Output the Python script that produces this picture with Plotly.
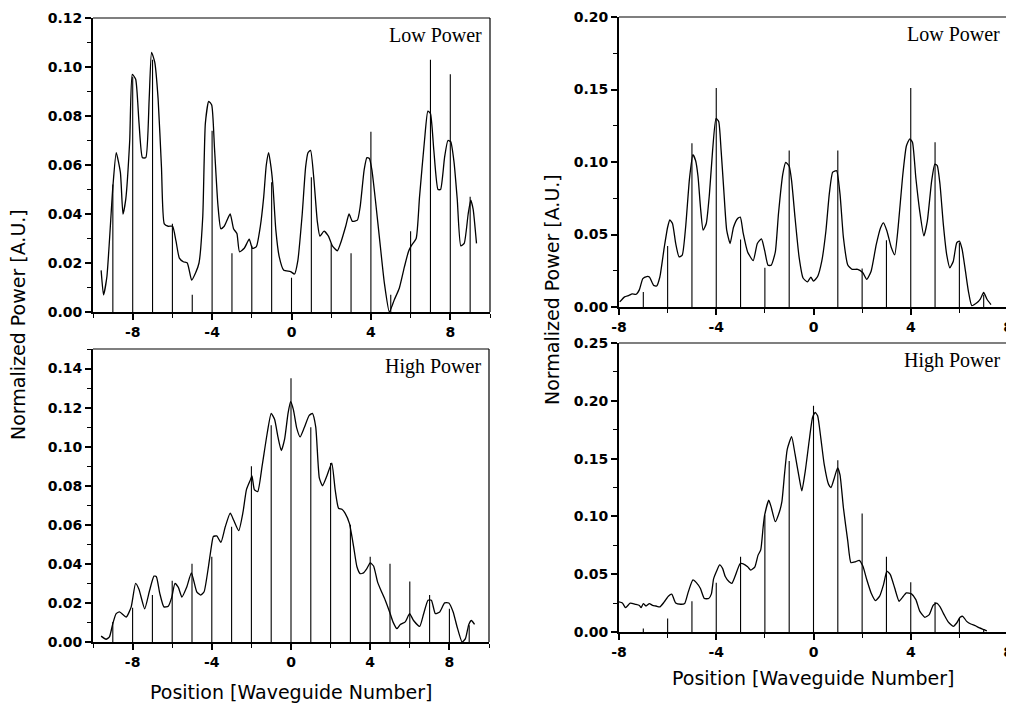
import plotly.graph_objects as go

# ---------------- data ----------------
# Panel A (left, Low Power)
x1_curve = [-9.59,-9.47,-9.30,-9.0,-8.83,-8.62,-8.49,-8.35,-8.15,-8.02,-7.85,-7.68,-7.51,-7.34,-7.17,-7.05,-6.89,-6.72,-6.55,-6.41,-6.21,-5.99,-5.82,-5.65,-5.45,-5.25,-5.03,-4.83,-4.66,-4.47,-4.34,-4.17,-4.02,-3.88,-3.71,-3.56,-3.39,-3.09,-2.92,-2.75,-2.62,-2.38,-2.13,-1.97,-1.77,-1.57,-1.40,-1.27,-1.15,-1.03,-0.93,-0.79,-0.62,-0.39,-0.05,0.15,0.32,0.54,0.71,0.83,0.96,1.13,1.30,1.43,1.64,1.86,2.06,2.31,2.51,2.73,2.90,3.07,3.32,3.46,3.66,3.80,3.92,4.05,4.25,4.46,4.68,4.93,5.18,5.43,5.69,5.89,6.03,6.28,6.45,6.70,6.87,7.0,7.17,7.38,7.51,7.71,7.88,8.02,8.19,8.35,8.53,8.70,8.90,9.03,9.15,9.32]
y1_curve = [0.017,0.007,0.0144,0.051,0.065,0.057,0.040,0.046,0.070,0.097,0.095,0.077,0.063,0.063,0.087,0.106,0.102,0.087,0.059,0.036,0.035,0.035,0.029,0.022,0.0205,0.020,0.013,0.016,0.020,0.039,0.077,0.086,0.0845,0.067,0.044,0.034,0.035,0.040,0.034,0.032,0.0246,0.026,0.0297,0.026,0.0267,0.035,0.047,0.060,0.065,0.059,0.051,0.0335,0.0226,0.017,0.0165,0.0155,0.021,0.040,0.059,0.065,0.066,0.054,0.037,0.031,0.033,0.031,0.027,0.025,0.029,0.035,0.040,0.037,0.0375,0.043,0.058,0.063,0.0627,0.058,0.044,0.028,0.0117,0.0,0.005,0.0097,0.0185,0.0246,0.027,0.030,0.047,0.070,0.082,0.081,0.066,0.050,0.050,0.063,0.070,0.0695,0.061,0.046,0.027,0.028,0.040,0.0457,0.042,0.028]
x1_bars = [-9,-8,-7,-6,-5,-4,-3,-2,-1,0,1,2,3,4,5,6,7,8,9]
y1_bars = [0.052,0.096,0.103,0.036,0.007,0.074,0.024,0.027,0.053,0.014,0.055,0.028,0.024,0.0736,0.007,0.033,0.103,0.097,0.047]

# Panel B (left, High Power)
x2_curve = [-9.59,-9.34,-9.17,-9.0,-8.83,-8.66,-8.32,-8.07,-7.85,-7.68,-7.39,-7.14,-6.92,-6.80,-6.63,-6.42,-6.20,-6.02,-5.86,-5.69,-5.51,-5.27,-5.03,-4.76,-4.56,-4.39,-4.17,-4.02,-3.92,-3.75,-3.54,-3.32,-3.07,-2.90,-2.64,-2.42,-2.25,-2.05,-1.97,-1.85,-1.68,-1.46,-1.20,-1.0,-0.83,-0.66,-0.49,-0.32,-0.15,-0.02,0.12,0.29,0.46,0.66,0.92,1.08,1.25,1.43,1.59,1.81,2.06,2.23,2.40,2.57,2.73,2.95,3.16,3.33,3.49,3.66,3.83,4.0,4.17,4.37,4.54,4.76,4.98,5.15,5.35,5.52,5.77,5.99,6.19,6.50,6.70,6.92,7.09,7.29,7.51,7.76,7.97,8.19,8.39,8.64,8.81,8.98,9.11,9.27]
y2_curve = [0.003,0.0014,0.0026,0.0094,0.0145,0.0154,0.0128,0.018,0.030,0.027,0.017,0.0265,0.0337,0.0334,0.025,0.018,0.0183,0.023,0.030,0.028,0.023,0.028,0.0354,0.0257,0.024,0.0257,0.0385,0.049,0.054,0.0543,0.051,0.059,0.066,0.0625,0.057,0.0667,0.078,0.083,0.085,0.078,0.077,0.090,0.107,0.117,0.114,0.105,0.098,0.104,0.117,0.123,0.119,0.1095,0.105,0.1095,0.116,0.117,0.110,0.084,0.080,0.085,0.0916,0.078,0.0685,0.068,0.066,0.0607,0.049,0.0385,0.035,0.0354,0.0376,0.0405,0.0389,0.0308,0.0265,0.0214,0.0154,0.0103,0.0068,0.009,0.0103,0.0145,0.011,0.008,0.0145,0.0214,0.0214,0.0145,0.0154,0.020,0.020,0.0154,0.0077,0.0,0.0017,0.009,0.011,0.009]
x2_bars = [-9,-8,-7,-6,-5,-4,-3,-2,-1,0,1,2,3,4,5,6,7,8,9]
y2_bars = [0.0103,0.0175,0.024,0.0313,0.040,0.0436,0.059,0.090,0.111,0.135,0.110,0.0916,0.060,0.0436,0.040,0.031,0.024,0.017,0.0086]

# Panel C (right, Low Power)
x3_curve = [-7.97,-7.77,-7.59,-7.46,-7.29,-7.16,-7.02,-6.86,-6.75,-6.58,-6.45,-6.32,-6.14,-6.0,-5.91,-5.80,-5.67,-5.53,-5.40,-5.26,-5.10,-4.96,-4.85,-4.75,-4.65,-4.54,-4.41,-4.28,-4.15,-4.01,-3.90,-3.80,-3.69,-3.57,-3.43,-3.29,-3.12,-3.01,-2.89,-2.71,-2.48,-2.31,-2.14,-2.01,-1.87,-1.74,-1.57,-1.44,-1.26,-1.14,-1.0,-0.90,-0.76,-0.59,-0.43,-0.25,-0.11,0.0,0.17,0.34,0.51,0.65,0.79,0.95,1.09,1.23,1.41,1.59,1.82,2.03,2.19,2.37,2.58,2.76,2.88,3.02,3.20,3.34,3.48,3.66,3.82,3.96,4.07,4.21,4.37,4.54,4.68,4.86,4.99,5.09,5.20,5.34,5.48,5.61,5.75,5.89,6.0,6.11,6.25,6.37,6.51,6.72,6.86,7.0,7.13,7.30]
y3_curve = [0.0035,0.007,0.008,0.009,0.0088,0.012,0.0196,0.021,0.0207,0.015,0.0145,0.0207,0.041,0.055,0.060,0.0576,0.044,0.0346,0.0357,0.055,0.0887,0.105,0.101,0.090,0.069,0.053,0.0576,0.078,0.108,0.130,0.128,0.108,0.0806,0.053,0.0438,0.055,0.061,0.062,0.0507,0.038,0.032,0.0438,0.047,0.039,0.0288,0.0288,0.038,0.0645,0.092,0.0998,0.097,0.087,0.0617,0.034,0.020,0.0173,0.0206,0.0178,0.021,0.0316,0.0524,0.078,0.093,0.094,0.078,0.048,0.029,0.026,0.026,0.0236,0.019,0.0247,0.043,0.0547,0.058,0.0524,0.041,0.036,0.0547,0.089,0.111,0.116,0.1136,0.089,0.066,0.049,0.059,0.087,0.0986,0.0975,0.085,0.057,0.036,0.027,0.0316,0.0443,0.0455,0.040,0.0247,0.011,0.001,0.003,0.0055,0.010,0.0055,0.0016]
x3_bars = [-7,-6,-5,-4,-3,-2,-1,0,1,2,3,4,5,6,7]
y3_bars = [0.0104,0.042,0.113,0.151,0.0465,0.027,0.108,0.0,0.108,0.0266,0.046,0.151,0.1136,0.0443,0.0085]

# Panel D (right, High Power)
x4_curve = [-8.0,-7.86,-7.73,-7.54,-7.32,-7.16,-7.09,-7.0,-6.89,-6.75,-6.62,-6.48,-6.32,-6.14,-5.97,-5.83,-5.67,-5.46,-5.30,-5.15,-4.96,-4.81,-4.65,-4.49,-4.31,-4.20,-4.11,-3.97,-3.86,-3.74,-3.63,-3.47,-3.36,-3.23,-3.02,-2.89,-2.71,-2.58,-2.41,-2.28,-2.17,-2.07,-2.01,-1.84,-1.74,-1.57,-1.40,-1.30,-1.19,-1.08,-0.90,-0.76,-0.59,-0.48,-0.34,-0.18,-0.04,0.07,0.17,0.30,0.44,0.62,0.72,0.86,0.99,1.09,1.23,1.41,1.54,1.72,1.88,2.03,2.19,2.37,2.55,2.72,2.88,3.02,3.16,3.34,3.52,3.66,3.82,4.03,4.21,4.37,4.58,4.76,4.92,5.06,5.20,5.37,5.54,5.75,5.89,6.03,6.14,6.30,6.47,6.65,6.83,7.02,7.13]
y4_curve = [0.026,0.0251,0.021,0.025,0.024,0.023,0.021,0.0246,0.0225,0.0246,0.023,0.0225,0.0217,0.026,0.031,0.0327,0.025,0.024,0.0246,0.0347,0.045,0.0425,0.0376,0.029,0.029,0.033,0.046,0.0535,0.058,0.055,0.048,0.0434,0.042,0.048,0.059,0.059,0.0564,0.0535,0.0564,0.0665,0.071,0.091,0.101,0.114,0.108,0.0954,0.104,0.1127,0.137,0.158,0.169,0.154,0.1335,0.122,0.139,0.165,0.1855,0.19,0.187,0.168,0.145,0.1277,0.125,0.1335,0.142,0.136,0.1075,0.0786,0.060,0.0607,0.062,0.057,0.0454,0.0338,0.0272,0.031,0.041,0.0526,0.0497,0.038,0.0266,0.030,0.0338,0.033,0.028,0.018,0.0127,0.015,0.023,0.025,0.022,0.015,0.0087,0.0049,0.0078,0.0127,0.0136,0.0092,0.0069,0.0055,0.0035,0.002,0.001]
x4_bars = [-7,-6,-5,-4,-3,-2,-1,0,1,2,3,4,5,6,7]
y4_bars = [0.003,0.0116,0.0266,0.0425,0.065,0.101,0.148,0.1957,0.1486,0.1026,0.065,0.043,0.026,0.012,0.002]

x_tick_vals = [-8, -4, 0, 4, 8]
x_tick_text = ["-8", "-4", "0", "4", "8"]
panel_labels = ["Low Power", "High Power", "Low Power", "High Power"]
y_title = "Normalized Power [A.U.]"
x_title = "Position [Waveguide Number]"

# ---------------- figure ----------------
W, H = 1014, 706
OFF = 8  # page body margin in the browser
# target pixel boxes on the page (left, top, right, bottom)
boxes = [(93, 18, 490, 312), (93, 349, 489, 642), (619, 17, 1008, 307), (619, 343, 1008, 632)]
x_ranges = [[-10, 10], [-10, 10], [-8, 8], [-8, 8]]
y_ranges = [[0, 0.12], [0, 0.15], [0, 0.20], [0, 0.25]]
y_dticks = [0.02, 0.02, 0.05, 0.05]
y_minor = [0.01, 0.01, 0.025, 0.025]


def px(v):
    return (v - OFF) / W


def py(v):
    return 1 - (v - OFF) / H


data = [(x1_curve, y1_curve, x1_bars, y1_bars),
        (x2_curve, y2_curve, x2_bars, y2_bars),
        (x3_curve, y3_curve, x3_bars, y3_bars),
        (x4_curve, y4_curve, x4_bars, y4_bars)]

fig = go.Figure()
tickfont = dict(family="DejaVu Sans, Verdana, sans-serif", size=14, color="black", weight=700)
layout = dict(width=W, height=H, margin=dict(l=0, r=0, t=0, b=0, autoexpand=False),
              paper_bgcolor="white", plot_bgcolor="white", showlegend=False)
shapes = []
annotations = []
for i, (xc, yc, xb, yb) in enumerate(data):
    n = "" if i == 0 else str(i + 1)
    l, t, r, b = boxes[i]
    xa = "xaxis" + n
    ya = "yaxis" + n
    # vertical stick bars built from the bar arrays (segments from 0 to value)
    sx, sy = [], []
    for xv, yv in zip(xb, yb):
        sx += [xv, xv, None]
        sy += [0, yv, None]
    fig.add_trace(go.Scatter(x=sx, y=sy, mode="lines", line=dict(color="black", width=1.1),
                             xaxis="x" + n, yaxis="y" + n, hoverinfo="skip"))
    fig.add_trace(go.Scatter(x=xc, y=yc, mode="lines",
                             line=dict(color="black", width=1.3, shape="spline", smoothing=0.5),
                             xaxis="x" + n, yaxis="y" + n))
    layout[xa] = dict(domain=[px(l), px(r)], anchor="y" + n, range=x_ranges[i], automargin=False,
                      showline=True, linecolor="black", linewidth=2, mirror=False,
                      ticks="outside", ticklen=6, tickwidth=1.5, tickcolor="black",
                      tickmode="array", tickvals=x_tick_vals, ticktext=x_tick_text,
                      showgrid=False, zeroline=False, tickfont=tickfont,
                      minor=dict(tickmode="linear", tick0=0, dtick=2, ticks="outside", ticklen=4,
                                 tickwidth=1.2, tickcolor="black"))
    layout[ya] = dict(domain=[py(b), py(t)], anchor="x" + n, range=y_ranges[i], automargin=False,
                      showline=True, linecolor="black", linewidth=2, mirror=False,
                      ticks="outside", ticklen=6, tickwidth=1.5, tickcolor="black",
                      tick0=0, dtick=y_dticks[i], tickformat=".2f", showgrid=False, zeroline=False,
                      tickfont=tickfont,
                      minor=dict(dtick=y_minor[i], ticks="outside", ticklen=4, tickwidth=1.2, tickcolor="black"))
    # thin top and right frame lines
    shapes.append(dict(type="line", xref="x" + n + " domain", yref="y" + n + " domain",
                       x0=0, x1=1, y0=1, y1=1, line=dict(color="black", width=1.2)))
    shapes.append(dict(type="line", xref="x" + n + " domain", yref="y" + n + " domain",
                       x0=1, x1=1, y0=0, y1=1, line=dict(color="black", width=1.2)))
    annotations.append(dict(text=panel_labels[i], xref="x" + n + " domain", yref="y" + n + " domain",
                            x=0.985, y=0.985, xanchor="right", yanchor="top", showarrow=False,
                            font=dict(family="Liberation Serif, Times New Roman, serif", size=20, color="black")))

title_font = dict(family="DejaVu Sans, Verdana, sans-serif", size=19, color="black")
annotations += [
    dict(text=y_title, xref="paper", yref="paper", x=px(18), y=py(325), textangle=-90,
         showarrow=False, xanchor="center", yanchor="middle", font=title_font),
    dict(text=y_title, xref="paper", yref="paper", x=px(552), y=py(290), textangle=-90,
         showarrow=False, xanchor="center", yanchor="middle", font=title_font),
    dict(text=x_title, xref="paper", yref="paper", x=px(291), y=py(692),
         showarrow=False, xanchor="center", yanchor="middle", font=title_font),
    dict(text=x_title, xref="paper", yref="paper", x=px(813), y=py(678),
         showarrow=False, xanchor="center", yanchor="middle", font=title_font),
]
layout["shapes"] = shapes
layout["annotations"] = annotations
fig.update_layout(**layout)
fig.write_html("out.html")
